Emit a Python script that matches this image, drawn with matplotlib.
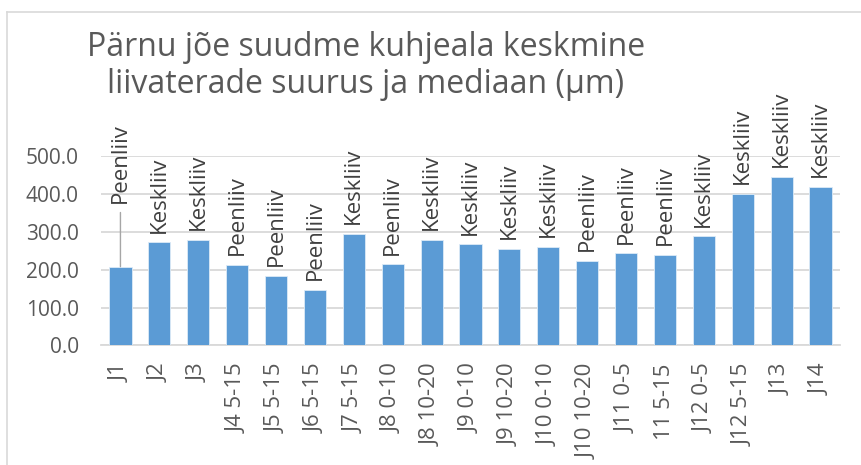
import matplotlib
matplotlib.use('Agg')
import matplotlib.pyplot as plt
from matplotlib.lines import Line2D
import numpy as np

plt.rcParams['font.family'] = ['Open Sans', 'DejaVu Sans']

# ── Data ──────────────────────────────────────────────────────
samples = ['J1', 'J2', 'J3', 'J4 5-15', 'J5 5-15', 'J6 5-15', 'J7 5-15',
           'J8 0-10', 'J8 10-20', 'J9 0-10', 'J9 10-20', 'J10 0-10',
           'J10 10-20', 'J11 0-5', '11 5-15', 'J12 0-5', 'J12 5-15',
           'J13', 'J14']
grain_um = [208, 272, 279, 213, 183, 146, 294, 214, 278, 267, 255, 261,
            223, 243, 240, 288, 400, 445, 420]
sand_cls = ['Peenliiv', 'Keskliiv', 'Keskliiv', 'Peenliiv', 'Peenliiv',
            'Peenliiv', 'Keskliiv', 'Peenliiv', 'Keskliiv', 'Keskliiv',
            'Keskliiv', 'Keskliiv', 'Peenliiv', 'Peenliiv', 'Peenliiv',
            'Keskliiv', 'Keskliiv', 'Keskliiv', 'Keskliiv']
yticks = [0, 100, 200, 300, 400, 500]

BAR  = '#5B9BD5'
GRID = '#D9D9D9'
TXT  = '#595959'
FS   = 16

fig = plt.figure(figsize=(8.61, 4.65), dpi=100)
ax = fig.add_axes([0.1173, 0.2574, 0.8583, 0.4065])

x = np.arange(len(samples))
ax.bar(x, grain_um, width=0.57, color=BAR, edgecolor='#DDEBF7',
       linewidth=0.6, zorder=3)

ax.set_xlim(-0.5, len(samples) - 0.5)
ax.set_ylim(0, 500)
ax.set_yticks(yticks)
ax.set_yticklabels([f'{v:.1f}' for v in yticks], fontsize=FS - 1, color=TXT)
ax.set_xticks(x)
ax.set_xticklabels(samples, rotation=90, fontsize=FS, color=TXT)
ax.tick_params(axis='both', length=0)
ax.tick_params(axis='y', pad=16)
ax.tick_params(axis='x', pad=13)
ax.grid(axis='y', color=GRID, linewidth=1.3, zorder=0)
for s in ['top', 'right', 'left']:
    ax.spines[s].set_visible(False)
ax.spines['bottom'].set_color(GRID)
ax.spines['bottom'].set_linewidth(1.3)

# data labels
for i, (v, lab) in enumerate(zip(grain_um, sand_cls)):
    off = 7
    if i == 0:
        off = 46
        ax.annotate('', xy=(i, v), xytext=(0, off - 7),
                    textcoords='offset points',
                    arrowprops=dict(arrowstyle='-', color='#A6A6A6', lw=1,
                                    shrinkA=0, shrinkB=0))
    ax.annotate(lab, xy=(i, v), xytext=(0, off), textcoords='offset points',
                rotation=90, ha='center', va='bottom', fontsize=FS,
                color='#404040', annotation_clip=False)

fig.text(366 / 861, 1 - 66 / 465,
         'Pärnu jõe suudme kuhjeala keskmine\nliivaterade suurus ja mediaan (µm)',
         ha='center', va='center', fontsize=23, color=TXT, linespacing=1.15)

# chart frame (partially visible)
fig.add_artist(Line2D([6.5 / 861, 6.5 / 861], [0, 1 - 12.5 / 465],
                      transform=fig.transFigure, color=GRID, lw=1.2))
fig.add_artist(Line2D([6.5 / 861, 1], [1 - 12.5 / 465, 1 - 12.5 / 465],
                      transform=fig.transFigure, color=GRID, lw=1.2))

fig.savefig('out.png', dpi=100)
